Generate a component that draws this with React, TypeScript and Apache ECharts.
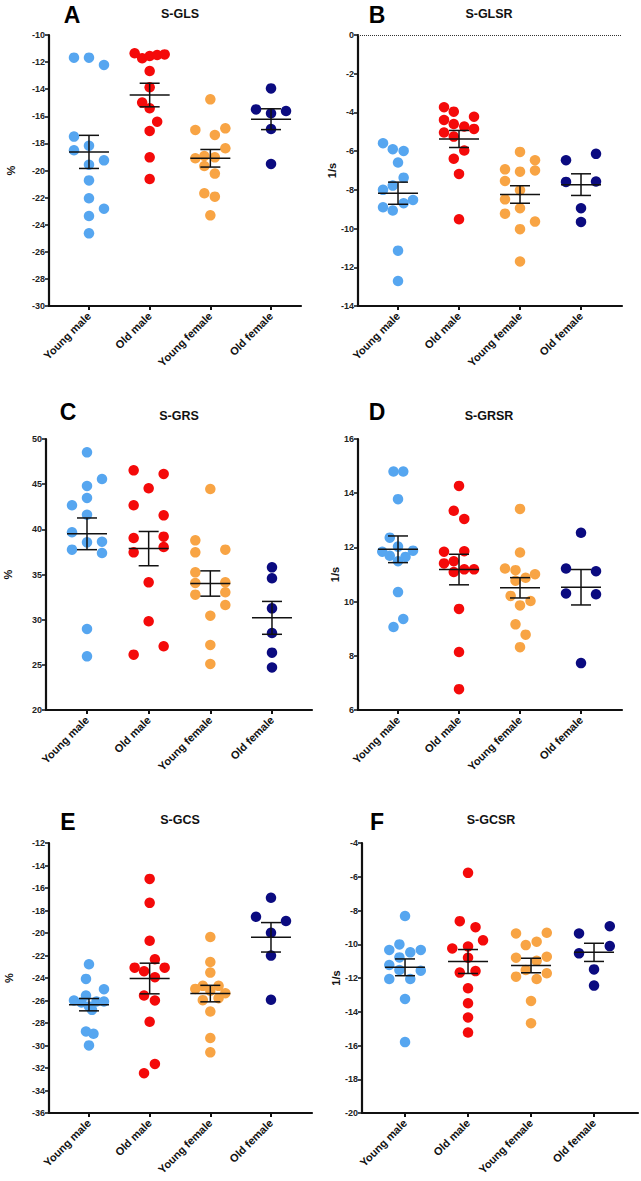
import React, { useEffect, useRef } from "react";
import * as echarts from "echarts";

const CATEGORIES = ["Young male", "Old male", "Young female", "Old female"];
const GROUP_COLORS = ["#56A6F0", "#F40A0A", "#F8A444", "#0B0B80"];

// values per group: Young male, Old male, Young female, Old female
const S_GLS = [
  [-11.67, -11.67, -12.21, -17.5, -18.51, -18.17, -19.25, -19.57, -20.73, -22.05, -22.82, -23.36, -24.64],
  [-11.35, -11.72, -11.55, -11.48, -11.43, -12.66, -13.86, -14.99, -15.41, -16.4, -17.08, -19.03, -20.63],
  [-14.75, -17.01, -16.89, -17.38, -18.36, -19.1, -18.93, -19.03, -19.67, -20.23, -21.68, -21.93, -23.31],
  [-13.94, -15.49, -15.61, -15.78, -16.94, -19.52],
];
const S_GLSR = [
  [-5.59, -5.9, -5.99, -6.59, -7.37, -7.78, -8.0, -8.52, -8.69, -8.9, -9.07, -11.14, -12.71],
  [-3.73, -3.96, -4.22, -4.39, -4.6, -4.73, -4.85, -5.04, -5.25, -5.97, -6.39, -7.18, -9.52],
  [-6.04, -6.47, -6.94, -7.06, -7.0, -7.54, -8.02, -8.49, -8.95, -9.23, -9.64, -10.03, -11.7],
  [-6.47, -6.14, -7.59, -7.57, -8.95, -9.66],
];
const S_GRS = [
  [48.52, 45.57, 44.8, 43.47, 42.66, 41.62, 39.67, 38.56, 38.63, 37.75, 37.38, 28.97, 25.94],
  [46.53, 46.13, 44.54, 42.66, 41.55, 39.04, 39.19, 37.45, 38.04, 34.13, 29.82, 27.05, 26.13],
  [44.46, 38.78, 37.45, 37.75, 35.24, 34.06, 34.13, 32.77, 33.03, 31.62, 30.44, 27.2, 25.1],
  [35.79, 34.58, 31.25, 28.52, 26.35, 24.71],
];
const S_GRSR = [
  [14.8, 14.8, 13.78, 12.36, 12.03, 11.84, 11.88, 11.69, 11.65, 11.49, 10.35, 9.36, 9.06],
  [14.27, 13.35, 13.05, 11.84, 11.86, 11.41, 11.49, 11.09, 11.19, 11.19, 9.73, 8.14, 6.77],
  [13.42, 11.81, 11.22, 11.16, 11.01, 10.88, 10.77, 10.21, 10.02, 9.86, 9.16, 8.78, 8.32],
  [12.54, 11.22, 11.12, 10.3, 10.27, 7.73],
];
const S_GCS = [
  [-22.78, -24.08, -25.0, -25.56, -26.0, -26.18, -26.09, -26.09, -26.53, -26.83, -28.75, -28.96, -29.99],
  [-15.19, -17.32, -20.69, -22.34, -23.08, -23.08, -23.4, -23.93, -25.56, -26.0, -27.89, -31.64, -32.46],
  [-20.36, -22.58, -23.52, -24.97, -24.7, -24.7, -25.12, -25.35, -25.97, -25.8, -26.98, -29.34, -30.61],
  [-16.87, -18.56, -18.94, -19.98, -22.01, -25.94],
];
const S_GCSR = [
  [-8.33, -10.01, -10.34, -10.48, -10.34, -10.78, -11.23, -11.53, -11.57, -12.06, -12.06, -13.24, -15.8],
  [-5.77, -8.63, -8.99, -9.77, -10.25, -10.13, -10.8, -11.68, -11.59, -12.61, -13.5, -14.34, -15.23],
  [-9.36, -9.32, -9.85, -10.05, -10.8, -10.74, -10.98, -11.53, -11.72, -11.92, -12.06, -13.36, -14.68],
  [-9.36, -8.93, -10.11, -10.54, -11.49, -12.45],
];

// horizontal jitter lanes of each point (scatter-dot-plot spreading)
const S_GLS_LANES = [
  [-2, 0, 2, -2, -2, 0, 2, 0, 0, 0, 2, 0, 0],
  [-2, -1, 0, 1, 2, 0, 0, -1, 0, 1, 0, 0, 0],
  [0, -2, 2, 0.6, 2, -2, -0.8, 0.6, -0.8, 0.6, -0.8, 0.6, 0],
  [0, -2, 2, 0, 0, 0],
];
const S_GLSR_LANES = [
  [-2, -0.7, 0.75, 0, 0.75, -0.7, -2, 2, 0.75, -2, -0.7, 0, 0],
  [-2, -0.7, 2, -2, -0.7, 0.7, 2, -2, -0.7, 0.7, -0.7, 0, 0],
  [0, 2, -2, 0, 2, -2, 0, -2, 0, -2, 2, 0, 0],
  [-2, 2, -2, 2, 0, 0],
];
const S_GRS_LANES = [
  [0, 2, 0, 0, -2, 0, -2, 0, 2, -2, 2, 0, 0],
  [-2, 2, 0, -2, 2, -2, 2, -2, 2, 0, 0, 2, -2],
  [0, -2, -2, 2, -2, -2, 2, -2, 2, 2, 0, 0, 0],
  [0, 0, 0, 0, 0, 0],
];
const S_GRSR_LANES = [
  [-0.6, 0.7, 0, -1.1, 0, -2.1, 2, -1.1, 1, 0, 0, 0.7, -0.6],
  [0, -0.7, 0.7, -2, 0.7, -2, -0.7, -0.7, 0.7, 2, 0, 0, 0],
  [0, 0, -2, -0.6, 2, 0.75, -0.6, -1.25, 1.4, 0, -0.6, 0.75, 0],
  [0, -2, 2, -2, 2, 0],
];
const S_GCS_LANES = [
  [0, -0.4, 2, -0.4, -2, -1, 1, 2, 0, 0.4, -0.4, 0.6, 0],
  [0, 0, 0, 0.7, -2, 2, -0.75, 0.7, -0.75, 0.7, 0, 0.7, -0.75],
  [0, 0, 0, -2, -1, 1.1, 0, 2, -1, 1.1, 0, 0, 0],
  [0, -2, 2, 0, 0, 0],
];
const S_GCSR_LANES = [
  [0, -0.75, -2.1, 0.7, 2.1, -0.75, -2.1, -0.75, 2.1, 0.7, -2.1, 0, 0],
  [0, -1.1, 1, 2, -2.1, 0, 0, -1.1, 1, 0, 0, 0, 0],
  [-2, 2.1, 0.75, -0.7, -2, 2.1, 0.75, -0.7, 2.1, -2, 0.75, 0, 0],
  [-2, 2.1, 2.1, -2, 0, 0],
];

const TITLES = ["S-GLS", "S-GLSR", "S-GRS", "S-GRSR", "S-GCS", "S-GCSR"];
const LETTERS = ["A", "B", "C", "D", "E", "F"];
const Y_NAMES = ["%", "1/s", "%", "1/s", "%", "1/s"];
const Y_MIN = [-30, -14, 20, 6, -36, -20];
const Y_MAX = [-10, 0, 50, 16, -12, -4];
const Y_STEP = [2, 2, 5, 2, 2, 2];

const PANEL_VALUES = [S_GLS, S_GLSR, S_GRS, S_GRSR, S_GCS, S_GCSR];
const PANEL_LANES = [S_GLS_LANES, S_GLSR_LANES, S_GRS_LANES, S_GRSR_LANES, S_GCS_LANES, S_GCSR_LANES];

// layout (pixels)
const LAYOUT = [
  { left: 49, top: 35, width: 252, height: 271, xmin: 0.341, xmax: 4.494, nameGap: 33, letter: [72, 15], title: [180, 14] },
  { left: 358, top: 35, width: 264, height: 271, xmin: 0.344, xmax: 4.672, nameGap: 18, letter: [377, 15], title: [489, 14] },
  { left: 46, top: 439, width: 266, height: 271, xmin: 0.335, xmax: 4.649, nameGap: 33, letter: [68, 412], title: [179, 416] },
  { left: 358, top: 439, width: 264, height: 271, xmin: 0.344, xmax: 4.672, nameGap: 18, letter: [377, 412], title: [489, 416] },
  { left: 49, top: 843, width: 263, height: 270, xmin: 0.341, xmax: 4.676, nameGap: 35, letter: [68, 822], title: [180, 820] },
  { left: 362, top: 843, width: 276, height: 270, xmin: 0.317, xmax: 4.698, nameGap: 21, letter: [377, 822], title: [491, 820] },
];

const FONT = "'Liberation Sans', Arial, sans-serif";
const LANE_PX = 7.5;

function meanSem(arr: number[]) {
  const n = arr.length;
  const m = arr.reduce((a, b) => a + b, 0) / n;
  const v = arr.reduce((a, b) => a + (b - m) * (b - m), 0) / (n - 1);
  return [m, Math.sqrt(v) / Math.sqrt(n)];
}

function buildOption() {
  const grid: any[] = [];
  const xAxis: any[] = [];
  const yAxis: any[] = [];
  const series: any[] = [];
  const graphic: any[] = [];

  LAYOUT.forEach((L, p) => {
    grid.push({ left: L.left, top: L.top, width: L.width, height: L.height, containLabel: false });
    xAxis.push({
      type: "value",
      gridIndex: p,
      min: L.xmin,
      max: L.xmax,
      splitLine: { show: false },
      axisLine: { show: true, onZero: false, lineStyle: { color: "#111", width: 2.2 } },
      axisTick: { show: true, customValues: [1, 2, 3, 4], length: 4, lineStyle: { color: "#111", width: 2 } },
      axisLabel: {
        show: true,
        customValues: [1, 2, 3, 4],
        formatter: (v: number) => CATEGORIES[Math.round(v) - 1] || "",
        rotate: 45,
        margin: 8,
        color: "#111",
        fontWeight: "bold",
        fontSize: 11,
        fontFamily: FONT,
      },
    });
    yAxis.push({
      type: "value",
      gridIndex: p,
      min: Y_MIN[p],
      max: Y_MAX[p],
      interval: Y_STEP[p],
      name: Y_NAMES[p],
      nameLocation: "middle",
      nameRotate: 90,
      nameGap: L.nameGap,
      nameTextStyle: { color: "#111", fontWeight: "bold", fontSize: 11, fontFamily: FONT },
      splitLine: { show: false },
      axisLine: { show: true, onZero: false, lineStyle: { color: "#111", width: 2.2 } },
      axisTick: { show: true, length: 4, lineStyle: { color: "#111", width: 1.5 } },
      axisLabel: { color: "#222", fontWeight: "bold", fontSize: 9, fontFamily: FONT, margin: 4 },
    });

    const pxPerUnit = L.width / (L.xmax - L.xmin);
    const laneUnit = LANE_PX / pxPerUnit;
    const values = PANEL_VALUES[p];
    const lanes = PANEL_LANES[p];
    values.forEach((grp, g) => {
      const s: any = {
        type: "scatter",
        xAxisIndex: p,
        yAxisIndex: p,
        symbol: "circle",
        symbolSize: 10.5,
        itemStyle: { color: GROUP_COLORS[g], opacity: 1 },
        data: grp.map((v, i) => [g + 1 + (lanes[g][i] || 0) * laneUnit, v]),
        z: 2,
      };
      if (p === 1 && g === 0) {
        s.markLine = {
          silent: true,
          symbol: "none",
          label: { show: false },
          lineStyle: { color: "#333", type: "dotted", width: 1 },
          data: [{ yAxis: 0 }],
        };
      }
      series.push(s);
    });
    series.push({
      type: "custom",
      xAxisIndex: p,
      yAxisIndex: p,
      z: 5,
      encode: { x: 0, y: 1 },
      data: values.map((grp, g) => {
        const [m, s] = meanSem(grp);
        return [g + 1, m, s];
      }),
      renderItem: (params: any, api: any) => {
        const x = api.value(0);
        const m = api.value(1);
        const s = api.value(2);
        const c = api.coord([x, m]);
        const t = api.coord([x, m + s]);
        const b = api.coord([x, m - s]);
        const style = { stroke: "#111", lineWidth: 1.5 };
        return {
          type: "group",
          children: [
            { type: "line", shape: { x1: c[0] - 20, y1: c[1], x2: c[0] + 20, y2: c[1] }, style },
            { type: "line", shape: { x1: c[0], y1: t[1], x2: c[0], y2: b[1] }, style },
            { type: "line", shape: { x1: c[0] - 10, y1: t[1], x2: c[0] + 10, y2: t[1] }, style },
            { type: "line", shape: { x1: c[0] - 10, y1: b[1], x2: c[0] + 10, y2: b[1] }, style },
          ],
        };
      },
    });

    graphic.push({
      type: "text",
      x: L.letter[0],
      y: L.letter[1],
      style: {
        text: LETTERS[p],
        fill: "#000",
        font: `bold 23px ${FONT}`,
        align: "center",
        verticalAlign: "middle",
      },
    });
    graphic.push({
      type: "text",
      x: L.title[0],
      y: L.title[1],
      style: {
        text: TITLES[p],
        fill: "#111",
        font: `bold 12.5px ${FONT}`,
        align: "center",
        verticalAlign: "middle",
      },
    });
  });

  return {
    animation: false,
    backgroundColor: "#ffffff",
    grid,
    xAxis,
    yAxis,
    series,
    graphic,
  };
}

export default function App() {
  const ref = useRef<HTMLDivElement | null>(null);
  useEffect(() => {
    document.body.style.margin = "0";
    if (!ref.current) return;
    const chart = echarts.init(ref.current, undefined, { renderer: "svg" });
    chart.setOption(buildOption() as any);
    return () => chart.dispose();
  }, []);
  return <div ref={ref} style={{ width: 641, height: 1181, background: "#fff" }} />;
}
